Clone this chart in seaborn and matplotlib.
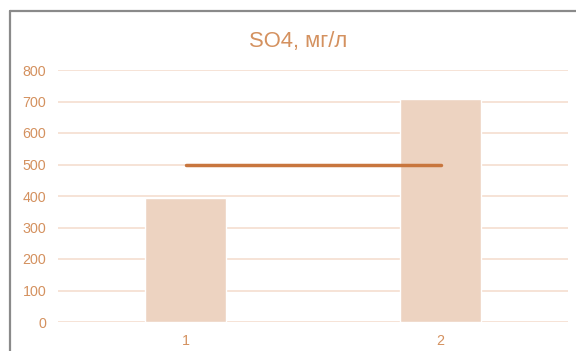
import matplotlib
matplotlib.use("Agg")
import matplotlib.pyplot as plt
import seaborn as sns
import pandas as pd
from matplotlib.lines import Line2D

# Sample points and measured sulfate concentration
categories = ["1", "2"]
so4_values = [394, 708]
norm_value = 500
y_ticks = [0, 100, 200, 300, 400, 500, 600, 700, 800]

sns.set_theme(style="white")
plt.rcParams["font.family"] = ["Liberation Sans", "DejaVu Sans"]

text_color = "#D4915F"
bar_color = "#EDD3C1"
line_color = "#C8763E"
grid_color = "#F6E3D6"

df = pd.DataFrame({"point": categories, "so4": so4_values})

fig = plt.figure(figsize=(5.76, 3.51), dpi=100)
ax = fig.add_axes([58 / 576, 1 - 322 / 351, 510 / 576, (322 - 70) / 351])

sns.barplot(data=df, x="point", y="so4", color=bar_color, width=0.315,
            saturation=1, ax=ax, zorder=2)
sns.lineplot(x=[0, 1], y=[norm_value, norm_value], color=line_color,
             linewidth=2.5, ax=ax, zorder=3)

ax.set_xlim(-0.5, 1.5)
ax.set_ylim(0, 800)
ax.set_yticks(y_ticks)
ax.set_yticklabels([str(t) for t in y_ticks])
ax.set_xlabel("")
ax.set_ylabel("")
for s in ax.spines.values():
    s.set_visible(False)
ax.grid(axis="y", color=grid_color, linewidth=1.4, zorder=0)
ax.set_axisbelow(True)
ax.tick_params(axis="both", length=0, labelsize=10.3, labelcolor=text_color)
ax.tick_params(axis="y", pad=8.5)
ax.tick_params(axis="x", pad=8.5)

fig.text(298 / 576, 1 - 41 / 351, "SO4, мг/л", ha="center", va="center",
         fontsize=15.8, color=text_color)

# Chart frame
fig.add_artist(Line2D([10 / 576, 10 / 576], [0, 1 - 11 / 351],
                      transform=fig.transFigure, color="#8A8A8A", linewidth=1.6))
fig.add_artist(Line2D([10 / 576, 1], [1 - 11 / 351, 1 - 11 / 351],
                      transform=fig.transFigure, color="#8A8A8A", linewidth=1.6))

fig.savefig("out.png", dpi=100, facecolor="white")
